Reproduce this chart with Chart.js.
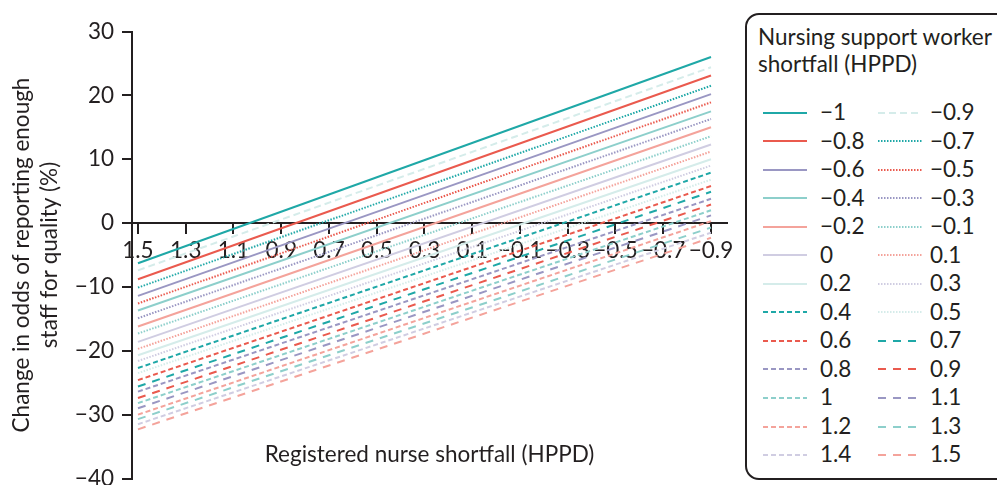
<!DOCTYPE html>
<html>
<head>
<meta charset="utf-8">
<script src="https://cdn.jsdelivr.net/npm/chart.js@4.4.1/dist/chart.umd.min.js"></script>
<style>
  html, body { margin: 0; padding: 0; background: #fff; overflow: hidden; width: 997px; height: 485px; font-family: Lato, sans-serif; color: #231f20; }
  #wrap { position: absolute; left: 0; top: 0; width: 745px; height: 500px; }
  #legend { position: absolute; left: 745px; top: 13px; width: 300px; height: 467px; box-sizing: border-box; border: 2px solid #231f20; border-radius: 14px; }
  #legend .ltitle { position: absolute; left: 11px; top: 8px; font-size: 22.5px; line-height: 27px; white-space: nowrap; }
  #legend .item { position: absolute; height: 28px; line-height: 28px; font-size: 22.5px; white-space: nowrap; }
  #legend .item svg { position: absolute; left: 0; top: 12.5px; }
  #legend .item span { position: absolute; top: 0; }
</style>
</head>
<body>
<div id="wrap"><canvas id="chart"></canvas></div>
<div id="legend"><div class="ltitle">Nursing support worker<br>shortfall (HPPD)</div></div>
<script>
// Nursing support worker shortfall levels (one line each)
const nswShortfall = ['−1', '−0.9', '−0.8', '−0.7', '−0.6', '−0.5', '−0.4', '−0.3', '−0.2', '−0.1',
  '0', '0.1', '0.2', '0.3', '0.4', '0.5', '0.6', '0.7', '0.8', '0.9', '1', '1.1', '1.2', '1.3', '1.4', '1.5'];

// Registered nurse shortfall (HPPD) at the two ends of each line
const rnShortfall = [1.5, -0.9];

// Change in odds (%) at RN shortfall 1.5, per NSW level
const changeAtRn15 = [-6.3, -7.4, -8.8, -10.1, -11.4, -12.6, -13.7, -14.9, -16.2, -17.3,
  -18.6, -19.7, -20.7, -21.6, -22.7, -23.5, -24.6, -25.6, -26.4, -27.4, -28.2, -29.0, -30.0, -30.7, -31.5, -32.3];

// Change in odds (%) at RN shortfall -0.9, per NSW level
const changeAtRnM09 = [26.0, 24.4, 23.1, 21.5, 20.2, 18.9, 17.5, 16.3, 15.0, 13.6,
  12.3, 11.2, 10.0, 9.0, 7.9, 6.8, 5.8, 4.9, 3.8, 2.9, 2.0, 1.2, 0.3, -0.7, -1.5, -2.3];

// x-axis tick labels
const xTickValues = [1.5, 1.3, 1.1, 0.9, 0.7, 0.5, 0.3, 0.1, -0.1, -0.3, -0.5, -0.7, -0.9];

// Line styling
const palette = {
  teal: '#1fa8a7', red: '#ea5a4e', purple: '#9a97c3', lteal: '#8dcfcb',
  salmon: '#f4a39b', lavender: '#d0cde2', vlteal: '#d5ecea'
};
const DOT = [1.5, 1.5], SHORT = [5, 3], LONG = [8, 7], MED = [7, 4];
const seriesStyle = [
  ['teal', []], ['vlteal', MED], ['red', []], ['teal', DOT], ['purple', []], ['red', DOT],
  ['lteal', []], ['purple', DOT], ['salmon', []], ['lteal', DOT], ['lavender', []], ['salmon', DOT],
  ['vlteal', []], ['lavender', DOT], ['teal', SHORT], ['vlteal', DOT], ['red', SHORT], ['teal', LONG],
  ['purple', SHORT], ['red', LONG], ['lteal', SHORT], ['purple', LONG], ['salmon', SHORT], ['lteal', LONG],
  ['lavender', SHORT], ['salmon', LONG]
];

const INK = '#231f20';
const FONT_SIZE = 22.5;
const fmt = v => {
  const s = Math.abs(v) < 1e-9 ? '0' : (Number.isInteger(v) ? String(Math.abs(v)) : Math.abs(v).toFixed(1));
  return v < -1e-9 ? '−' + s : s;
};

const endpoints = [changeAtRn15, changeAtRnM09];
const datasets = nswShortfall.map((label, i) => ({
  label,
  data: rnShortfall.map((x, j) => ({ x, y: endpoints[j][i] })),
  borderColor: palette[seriesStyle[i][0]],
  borderDash: seriesStyle[i][1],
  borderWidth: 2,
  pointRadius: 0,
  fill: false,
  tension: 0
}));

// Horizontal axis title sits near the bottom of the plot, below the lines
const xTitle = {
  id: 'xTitle',
  afterDraw(chart) {
    const { ctx, chartArea } = chart;
    ctx.save();
    ctx.font = FONT_SIZE + 'px Lato';
    ctx.fillStyle = INK;
    ctx.textAlign = 'center';
    ctx.textBaseline = 'alphabetic';
    ctx.fillText('Registered nurse shortfall (HPPD)', (chartArea.left + chartArea.right) / 2, chartArea.bottom - 16.5);
    ctx.restore();
  }
};

Chart.defaults.font.family = 'Lato';
Chart.defaults.color = INK;

const chart = new Chart(document.getElementById('chart'), {
  type: 'line',
  data: { datasets },
  plugins: [xTitle],
  options: {
    responsive: true,
    maintainAspectRatio: false,
    animation: false,
    layout: { padding: { left: 0, right: 18, top: 31.5, bottom: 18.5 } },
    plugins: { legend: { display: false }, tooltip: { enabled: false } },
    scales: {
      x: {
        type: 'linear',
        reverse: true,
        min: -0.967,
        max: 1.525,
        position: { y: 0 },
        afterBuildTicks: s => { s.ticks = xTickValues.map(v => ({ value: v })); },
        ticks: { callback: v => fmt(v), font: { size: FONT_SIZE }, color: INK, padding: 4, autoSkip: false, maxRotation: 0 },
        grid: { drawOnChartArea: false, drawTicks: true, tickLength: 10, color: INK, lineWidth: 2 },
        border: { color: INK, width: 2 }
      },
      y: {
        type: 'linear',
        min: -40,
        max: 30,
        afterFit: s => { s.width = 132; },
        ticks: { stepSize: 10, callback: v => fmt(v), font: { size: FONT_SIZE }, color: INK, padding: 8 },
        grid: { drawOnChartArea: false, drawTicks: true, tickLength: 10, color: INK, lineWidth: 2 },
        border: { color: INK, width: 2 },
        title: {
          display: true,
          text: ['Change in odds of reporting enough', 'staff for quality (%)'],
          font: { size: FONT_SIZE, lineHeight: 1.22 },
          color: INK,
          padding: { top: 8.3, bottom: 0 }
        }
      }
    }
  }
});

// Two-column legend built from the chart's datasets
const legendBox = document.getElementById('legend');
const colSwatch = [16, 131], colText = [57, 52];
chart.data.datasets.forEach((ds, k) => {
  const row = Math.floor(k / 2), col = k % 2;
  const center = 112.7 + row * 28.53;
  const item = document.createElement('div');
  item.className = 'item';
  item.style.left = colSwatch[col] + 'px';
  item.style.top = (center - 14.6 - 15) + 'px';
  const svgNS = 'http://www.w3.org/2000/svg';
  const svg = document.createElementNS(svgNS, 'svg');
  svg.setAttribute('width', '44');
  svg.setAttribute('height', '4');
  svg.style.top = '12.6px';
  const ln = document.createElementNS(svgNS, 'line');
  ln.setAttribute('x1', '0'); ln.setAttribute('x2', '44');
  ln.setAttribute('y1', '2'); ln.setAttribute('y2', '2');
  ln.setAttribute('stroke', ds.borderColor);
  ln.setAttribute('stroke-width', '2');
  if (ds.borderDash.length) ln.setAttribute('stroke-dasharray', ds.borderDash.join(' '));
  svg.appendChild(ln);
  const span = document.createElement('span');
  span.style.left = colText[col] + 'px';
  span.textContent = ds.label;
  item.appendChild(svg);
  item.appendChild(span);
  legendBox.appendChild(item);
});
</script>
</body>
</html>
